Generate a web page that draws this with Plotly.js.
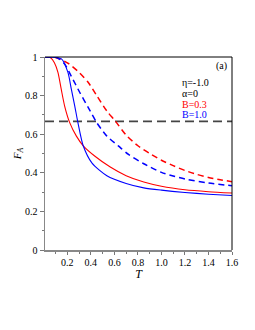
<!DOCTYPE html>
<html><head><meta charset="utf-8">
<script src="https://cdn.plot.ly/plotly-3.0.1.min.js"></script>
<style>html,body{margin:0;padding:0;background:#fff;}#plot{width:255px;height:330px;}</style>
</head><body><div id="plot"></div>
<script>
// Data
var tRedSolid = [0.01, 0.06, 0.09, 0.12, 0.148, 0.177, 0.22, 0.277, 0.335, 0.435, 0.565, 0.7, 0.85, 1.0, 1.2, 1.4, 1.6];
var fRedSolid = [1.0, 0.995, 0.97, 0.92, 0.833, 0.746, 0.66, 0.59, 0.54, 0.486, 0.43, 0.385, 0.352, 0.33, 0.312, 0.302, 0.295];
var tRedDash = [0.01, 0.1, 0.2, 0.3, 0.378, 0.45, 0.536, 0.608, 0.7, 0.8, 0.9, 1.0, 1.1, 1.2, 1.3, 1.4, 1.5, 1.6];
var fRedDash = [1.0, 0.997, 0.97, 0.92, 0.868, 0.8, 0.72, 0.668, 0.595, 0.54, 0.5, 0.465, 0.437, 0.412, 0.392, 0.376, 0.364, 0.354];
var tBlueSolid = [0.01, 0.1, 0.15, 0.205, 0.234, 0.263, 0.29, 0.335, 0.41, 0.536, 0.7, 0.85, 1.0, 1.2, 1.4, 1.6];
var fBlueSolid = [1.0, 0.998, 0.99, 0.92, 0.833, 0.746, 0.66, 0.54, 0.45, 0.385, 0.345, 0.322, 0.31, 0.298, 0.289, 0.282];
var tBlueDash = [0.01, 0.1, 0.13, 0.177, 0.234, 0.306, 0.378, 0.45, 0.536, 0.636, 0.72, 0.85, 1.0, 1.1, 1.2, 1.4, 1.6];
var fBlueDash = [1.0, 0.998, 0.99, 0.964, 0.9, 0.816, 0.738, 0.66, 0.59, 0.538, 0.495, 0.447, 0.402, 0.383, 0.368, 0.347, 0.333];
var refT = [0.01, 1.6];
var refF = [0.6667, 0.6667];
var xTickVals = [0.2, 0.4, 0.6, 0.8, 1.0, 1.2, 1.4, 1.6];
var xTickText = ["0.2", "0.4", "0.6", "0.8", "1.0", "1.2", "1.4", "1.6"];
var yTickVals = [0, 0.2, 0.4, 0.6, 0.8, 1];
var yTickText = ["0", "0.2", "0.4", "0.6", "0.8", "1"];
var legendLines = ["η=-1.0", "α=0", "B=0.3", "B=1.0"];
var panelLabel = "(a)";

var red = "#ff0000", blue = "#0000ff";
var sm = 0.7;
var traces = [
  {x: refT, y: refF, mode: "lines", line: {color: "#444", width: 1.6, dash: "9px,5px"}, hoverinfo: "skip"},
  {x: tRedSolid, y: fRedSolid, mode: "lines", line: {color: red, width: 1.1, shape: "spline", smoothing: sm}},
  {x: tRedDash, y: fRedDash, mode: "lines", line: {color: red, width: 1.5, shape: "spline", smoothing: sm, dash: "6px,4px"}},
  {x: tBlueSolid, y: fBlueSolid, mode: "lines", line: {color: blue, width: 1.1, shape: "spline", smoothing: sm}},
  {x: tBlueDash, y: fBlueDash, mode: "lines", line: {color: blue, width: 1.5, shape: "spline", smoothing: sm, dash: "6px,4px"}}
];
var serif = "Liberation Serif";
var colors = ["#000", "#000", red, blue];
var ys = [0.87, 0.81, 0.755, 0.70];
var annotations = [{xref: "paper", yref: "paper", x: 0.985, y: 0.955, xanchor: "right", yanchor: "middle", text: panelLabel, showarrow: false, font: {family: serif, size: 10, color: "#000"}}];
for (var i = 0; i < legendLines.length; i++) {
  annotations.push({xref: "paper", yref: "paper", x: 0.72, y: ys[i], xanchor: "left", yanchor: "middle", text: legendLines[i], showarrow: false, font: {family: serif, size: 10, color: colors[i]}});
}
var layout = {
  width: 255, height: 330,
  margin: {l: 45, r: 23, t: 57, b: 80},
  paper_bgcolor: "#fff", plot_bgcolor: "#fff",
  showlegend: false,
  font: {family: serif, size: 10, color: "#000"},
  xaxis: {range: [0.01, 1.6], tickvals: xTickVals, ticktext: xTickText, ticks: "outside", ticklen: 3, tickcolor: "#777",
    ticklabelstandoff: -1,
    minor: {dtick: 0.1, tick0: 0, ticks: "outside", ticklen: 2, tickcolor: "#777"},
    showgrid: false, zeroline: false, showline: true, linecolor: "#888", linewidth: 1.5,
    title: {text: "<i>T</i>", font: {family: serif, size: 12}, standoff: 0}},
  yaxis: {range: [0, 1], tickvals: yTickVals, ticktext: yTickText, ticks: "outside", ticklen: 4, tickcolor: "#777",
    minor: {dtick: 0.1, tick0: 0, ticks: "outside", ticklen: 2, tickcolor: "#777"},
    showgrid: false, zeroline: false, showline: true, linecolor: "#888", linewidth: 1.5,
    title: {text: "<i>F<sub>A</sub></i>", font: {family: serif, size: 11}, standoff: 1}},
  shapes: [
    {type: "line", xref: "paper", yref: "paper", x0: 0, x1: 1, y0: 1, y1: 1, line: {color: "#000", width: 1}},
    {type: "line", xref: "paper", yref: "paper", x0: 1, x1: 1, y0: 0, y1: 1, line: {color: "#000", width: 1}}
  ],
  annotations: annotations
};
Plotly.newPlot("plot", traces, layout, {staticPlot: true, displayModeBar: false});
</script></body></html>
